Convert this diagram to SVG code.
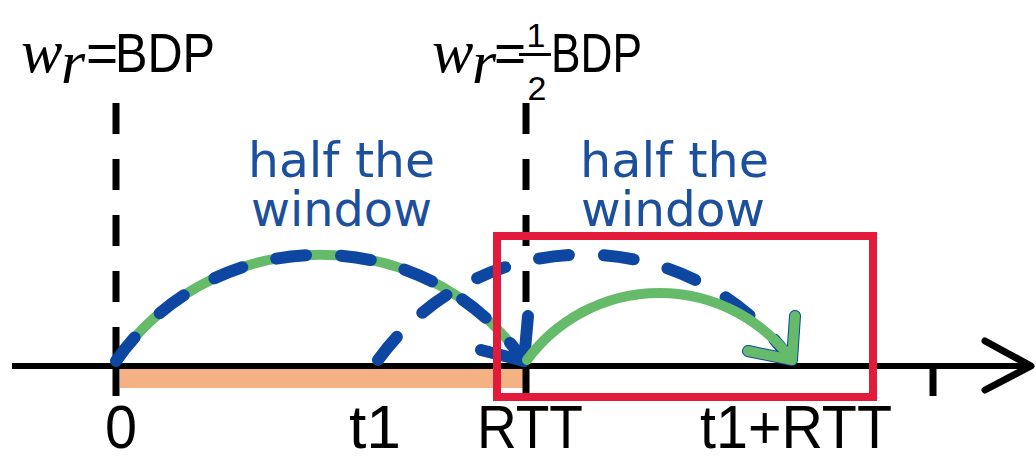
<svg xmlns="http://www.w3.org/2000/svg" width="1036" height="461" viewBox="0 0 1036 461">
<style>
.bg{fill:#ffffff}
.orange{fill:#F4B183}
.vdash{stroke:#000;stroke-width:7;stroke-dasharray:31 25;fill:none}
.axis{stroke:#000;stroke-width:6;fill:none}
.tick{stroke:#000;stroke-width:7;fill:none}
.ahead{stroke:#000;stroke-width:7;fill:none;stroke-linecap:round;stroke-linejoin:round}
.green{stroke:#66BB6A;stroke-width:10;fill:none;stroke-linecap:round;stroke-linejoin:round}
.blue{stroke:#0D47A1;stroke-width:12;fill:none;stroke-linecap:round;stroke-linejoin:round}
.bdash{stroke-dasharray:30 35}
.red{stroke:#E31B3B;stroke-width:8;fill:none}
.math{font-family:"Liberation Serif","DejaVu Serif",serif;font-style:italic;font-size:62px;fill:#000}
.lbl{font-family:"Liberation Sans",Arial,sans-serif;fill:#000}
.note{font-family:"DejaVu Sans",Verdana,sans-serif;font-size:48px;fill:#1C4F9C}
</style>
<rect class="bg" x="0" y="0" width="1036" height="461"/>

<g id="interval-bar">
<rect class="orange" x="120" y="369" width="403" height="19"/>
</g>

<g id="marker-lines">
<line class="vdash" x1="116" y1="103" x2="116" y2="366"/>
<line class="vdash" x1="526" y1="103" x2="526" y2="366"/>
</g>

<g id="time-axis">
<line class="axis" x1="12" y1="366" x2="1030" y2="366"/>
<polyline class="ahead" points="985,341 1031,366 985,390"/>
<line class="tick" x1="116" y1="366" x2="116" y2="396"/>
<line class="tick" x1="526" y1="366" x2="526" y2="396"/>
<line class="tick" x1="933" y1="366" x2="933" y2="396"/>
</g>

<g id="connectors">
<path class="green" d="M116,361 A249,249 0 0 1 524,361"/>
<path class="blue bdash" d="M116,361 A249,249 0 0 1 524,361"/>
<polyline class="blue" points="481,350 524,361 528,316"/>
<path class="blue bdash" d="M378,360 A254.6,254.6 0 0 1 790,359"/>
<polyline class="blue" points="748,351 792,360 795,316"/>
<path class="green" d="M527,360 A164.5,164.5 0 0 1 792,360"/>
<polyline class="green" points="748,351 792,360 795,316"/>
</g>

<g id="highlight-box">
<rect class="red" x="497" y="236" width="376" height="161"/>
</g>

<g id="label-wr-bdp">
<text class="math" x="21" y="72">w</text>
<text class="math" x="61" y="83" font-size="60">r</text>
<text class="lbl" x="86" y="72" font-size="55">=</text>
<text class="lbl" x="115" y="72" font-size="56" textLength="100" lengthAdjust="spacingAndGlyphs">BDP</text>
</g>

<g id="label-wr-half-bdp">
<text class="math" x="432" y="72">w</text>
<text class="math" x="472" y="83" font-size="60">r</text>
<text class="lbl" x="494" y="72" font-size="55">=</text>
<text class="lbl" x="536" y="47" font-size="34" text-anchor="middle">1</text>
<line x1="519" y1="54.5" x2="551" y2="54.5" stroke="#000" stroke-width="3"/>
<text class="lbl" x="537" y="100" font-size="34" text-anchor="middle">2</text>
<text class="lbl" x="551" y="72" font-size="56" textLength="91" lengthAdjust="spacingAndGlyphs">BDP</text>
</g>

<g id="note-left">
<text class="note"><tspan x="248" y="177" textLength="187" lengthAdjust="spacingAndGlyphs">half the</tspan><tspan x="251" y="226" textLength="181" lengthAdjust="spacingAndGlyphs">window</tspan></text>
</g>

<g id="note-right">
<text class="note"><tspan x="580" y="177" textLength="189" lengthAdjust="spacingAndGlyphs">half the</tspan><tspan x="581" y="226" textLength="184" lengthAdjust="spacingAndGlyphs">window</tspan></text>
</g>

<g id="axis-labels">
<text class="lbl" x="105" y="448" font-size="61" textLength="32" lengthAdjust="spacingAndGlyphs">0</text>
<text class="lbl" x="349" y="448" font-size="61" textLength="52" lengthAdjust="spacingAndGlyphs">t1</text>
<text class="lbl" x="477" y="448" font-size="61" textLength="106" lengthAdjust="spacingAndGlyphs">RTT</text>
<text class="lbl" x="700" y="448" font-size="61" textLength="192" lengthAdjust="spacingAndGlyphs">t1+RTT</text>
</g>
</svg>
